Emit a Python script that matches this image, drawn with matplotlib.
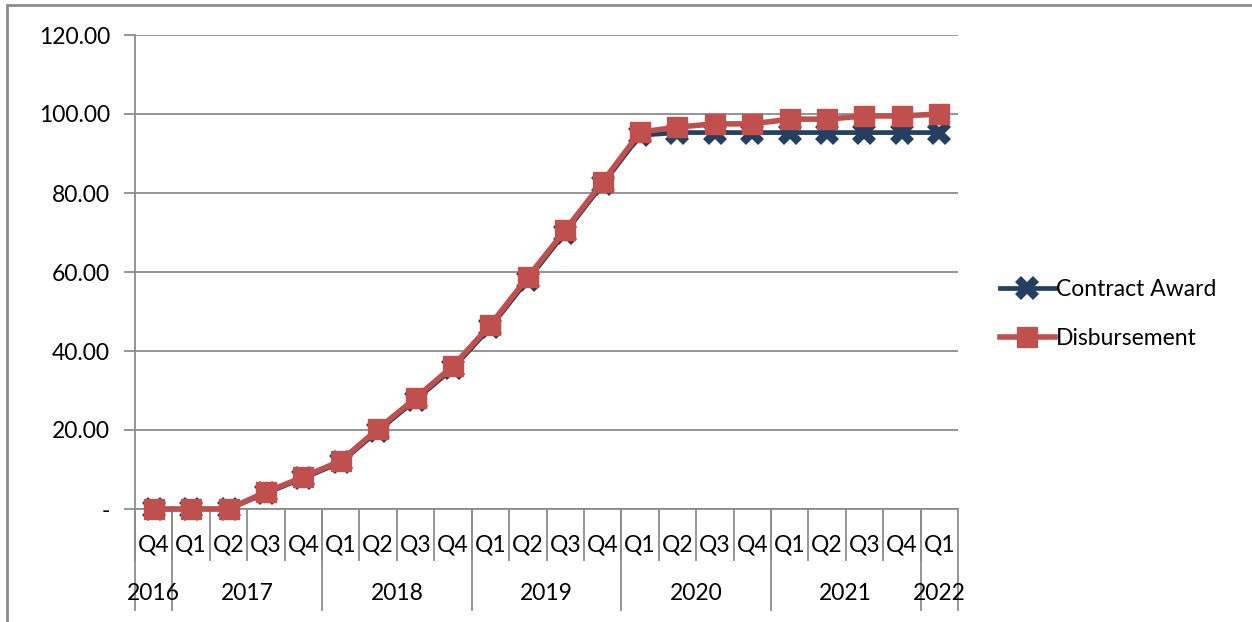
import matplotlib.pyplot as plt
import matplotlib.transforms as mtransforms
from matplotlib.patches import Rectangle

plt.rcParams['font.family'] = ['Lato', 'DejaVu Sans']

quarters = ['Q4', 'Q1', 'Q2', 'Q3', 'Q4', 'Q1', 'Q2', 'Q3', 'Q4', 'Q1', 'Q2',
            'Q3', 'Q4', 'Q1', 'Q2', 'Q3', 'Q4', 'Q1', 'Q2', 'Q3', 'Q4', 'Q1']
years = ['2016', '2017', '2018', '2019', '2020', '2021', '2022']
quarters_per_year = [1, 4, 4, 4, 4, 4, 1]

contract_award = [0.0, 0.0, 0.0, 4.0, 7.8, 11.8, 19.8, 27.6, 35.6, 46.0, 58.0,
                  70.0, 82.2, 94.6, 95.3, 95.3, 95.3, 95.3, 95.3, 95.3, 95.3, 95.3]
disbursement = [0.0, 0.0, 0.0, 4.3, 8.1, 12.2, 20.3, 28.1, 36.2, 46.6, 58.7,
                70.6, 82.8, 95.4, 96.7, 97.5, 97.5, 98.7, 98.7, 99.5, 99.5, 100.0]

yticks = [0, 20, 40, 60, 80, 100, 120]

fs = 16.5
fig = plt.figure(figsize=(12.52, 6.22), dpi=100)
ax = fig.add_axes([135/1252, 1 - 509/622, (958 - 135)/1252, 474/622])

grid_col = '#8c8c8c'
x = list(range(len(quarters)))

ax.plot(x, contract_award, color='#243F60', lw=3.4, marker='X', markersize=17,
        markeredgewidth=0, label='Contract Award', zorder=3, clip_on=False)
ax.plot(x, disbursement, color='#C0504D', lw=4, marker='s', markersize=14,
        label='Disbursement', zorder=4, clip_on=False)

ax.set_xlim(-0.5, len(quarters) - 0.5)
ax.set_ylim(0, 120)
ax.set_yticks(yticks)
ax.set_yticklabels(['-' if v == 0 else f'{v:.2f}' for v in yticks], fontsize=fs)
ax.yaxis.grid(True, color=grid_col, lw=1.3)
ax.set_axisbelow(True)
ax.tick_params(axis='y', length=8, color=grid_col, width=1.3, pad=10)
for s in ['top', 'right']:
    ax.spines[s].set_visible(False)
for s in ['left', 'bottom']:
    ax.spines[s].set_color(grid_col)
    ax.spines[s].set_linewidth(1.3)

# category axis: quarters and years
ax.set_xticks([])
trans = mtransforms.blended_transform_factory(ax.transData, ax.transAxes)
for i, q in enumerate(quarters):
    ax.text(i, -0.076, q, transform=trans, ha='center', va='center', fontsize=fs)
    ax.plot([i - 0.5, i - 0.5], [0, -0.108], transform=trans, color=grid_col,
            lw=1.3, clip_on=False)
ax.plot([len(quarters) - 0.5] * 2, [0, -0.213], transform=trans, color=grid_col,
        lw=1.3, clip_on=False)
start = 0
for yr, n in zip(years, quarters_per_year):
    ax.plot([start - 0.5, start - 0.5], [0, -0.213], transform=trans, color=grid_col,
            lw=1.3, clip_on=False)
    ax.text(start + (n - 1) / 2, -0.179, yr, transform=trans, ha='center',
            va='center', fontsize=fs)
    start += n

fig.legend(loc='center left', bbox_to_anchor=(979/1252, 1 - 314/622), frameon=False,
           fontsize=fs, handlelength=2.4, labelspacing=1.25, handletextpad=0.05)

# outer chart frame
fig.patches.append(Rectangle((7/1252, -0.1), 1.2, 1.1 - 5/622, transform=fig.transFigure,
                             fill=False, edgecolor=grid_col, lw=2))

fig.savefig('out.png', dpi=100)
